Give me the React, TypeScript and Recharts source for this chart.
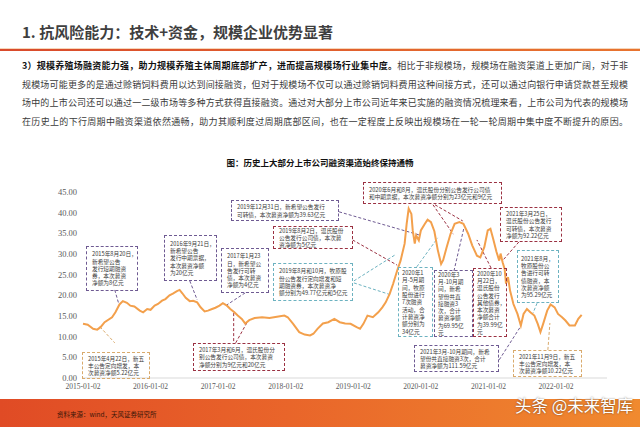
import React from 'react';
import { LineChart, Line, XAxis, YAxis, ReferenceLine } from 'recharts';

// ---- data (decimal years, index level) ----
const dates = [
  2015.00, 2015.07, 2015.15, 2015.21, 2015.26, 2015.32, 2015.43, 2015.48, 2015.54, 2015.59, 2015.65, 2015.70, 2015.76, 2015.84, 2015.89, 2015.95,
  2016.00, 2016.06, 2016.11, 2016.17, 2016.22, 2016.28, 2016.33, 2016.39, 2016.43, 2016.47, 2016.52, 2016.58, 2016.63, 2016.69, 2016.74, 2016.80, 2016.85, 2016.91, 2016.96,
  2017.02, 2017.07, 2017.13, 2017.18, 2017.24, 2017.29, 2017.35, 2017.40, 2017.46, 2017.54, 2017.65, 2017.76, 2017.87, 2017.98,
  2018.03, 2018.11, 2018.20, 2018.28, 2018.36, 2018.41, 2018.47, 2018.55, 2018.63, 2018.72, 2018.80, 2018.88, 2018.96,
  2019.05, 2019.10, 2019.15, 2019.21, 2019.29, 2019.37, 2019.43, 2019.48, 2019.54, 2019.59, 2019.65, 2019.70, 2019.76, 2019.79, 2019.82, 2019.86, 2019.88, 2019.91, 2019.93, 2019.97,
  2020.00, 2020.06, 2020.10, 2020.15, 2020.20, 2020.25, 2020.30, 2020.33, 2020.38, 2020.44, 2020.50, 2020.57, 2020.63, 2020.70, 2020.76, 2020.83, 2020.88, 2020.94, 2020.99,
  2021.03, 2021.07, 2021.12, 2021.16, 2021.18, 2021.21, 2021.24, 2021.26, 2021.29, 2021.32, 2021.37, 2021.43, 2021.48, 2021.52, 2021.57, 2021.62, 2021.68, 2021.73, 2021.77, 2021.81, 2021.87, 2021.92, 2021.98,
  2022.03, 2022.09, 2022.14, 2022.20, 2022.28, 2022.33, 2022.38,
];
const values = [
  13.1, 12.9, 11.9, 11.7, 12.3, 13.5, 14.7, 15.9, 17.8, 18.6, 18.2, 17.5, 17.3, 16.3, 15.9, 16.7,
  16.5, 17.5, 17.9, 18.7, 19.1, 20.0, 20.4, 21.0, 21.3, 20.5, 19.4, 18.6, 18.7, 18.3, 17.1, 16.1, 16.3, 16.7, 17.0,
  17.5, 18.1, 17.5, 16.7, 15.9, 15.1, 14.3, 13.2, 14.0, 14.5, 14.7, 14.5, 14.8, 15.1,
  14.7, 13.1, 11.1, 10.5, 10.3, 10.7, 11.9, 13.2, 13.5, 14.3, 13.5, 13.2, 13.1,
  12.3, 11.9, 13.1, 15.1, 14.7, 15.9, 17.1, 18.3, 20.4, 22.8, 26.0, 28.4, 32.5, 37.3, 41.0, 39.7, 35.7, 32.5, 34.5, 33.3,
  35.7, 37.3, 38.3, 37.7, 35.5, 31.0, 27.6, 28.5, 31.5, 34.9, 37.3, 37.7, 37.3, 34.9, 32.1, 29.6, 29.2, 31.7, 35.7,
  36.1, 33.7, 30.5, 28.4, 30.1, 28.0, 26.4, 22.8, 24.4, 21.2, 17.9, 15.5, 12.7, 15.5, 16.7, 15.9, 15.1, 13.1, 11.1, 13.1, 16.3, 17.8, 17.1,
  15.5, 14.7, 13.9, 12.7, 12.7, 14.3, 15.3,
];
const xTicks = [2015, 2016, 2017, 2018, 2019, 2020, 2021, 2022];
const xTickLabels = ['2015-01-02', '2016-01-02', '2017-01-02', '2018-01-02', '2019-01-02', '2020-01-02', '2021-01-02', '2022-01-02'];
const yTicks = [0, 5, 10, 15, 20, 25, 30, 35, 40, 45];

const data = dates.map((t, i) => ({ t, v: values[i] }));

const PURPLE = '#6e5a92';
const RED = '#9b3142';
const TEAL = '#6cb2c0';
const TAN = '#d9aa6c';

// leader lines: anchor points in data space
const leaders = [
  { a: [2015.47, 21.3], b: [2015.53, 17.9], c: PURPLE },
  { a: [2015.25, 12.4], b: [2015.47, 8.5], c: TAN },
  { a: [2016.58, 23.5], b: [2016.69, 18.9], c: PURPLE },
  { a: [2017.40, 20.6], b: [2017.13, 17.7], c: PURPLE },
  { a: [2017.23, 15.7], b: [2017.23, 8.5], c: RED },
  { a: [2017.26, 8.5], b: [2017.43, 13.5], c: RED },
  { a: [2018.79, 40.2], b: [2020.0, 34.5], c: PURPLE },
  { a: [2018.99, 33.4], b: [2019.65, 27.3], c: RED },
  { a: [2019.01, 23.5], b: [2019.62, 29.8], c: TEAL },
  { a: [2019.01, 23.0], b: [2019.56, 20.1], c: TEAL },
  { a: [2020.18, 41.9], b: [2020.48, 34.8], c: RED },
  { a: [2020.21, 41.9], b: [2020.62, 38.0], c: RED },
  { a: [2021.45, 32.9], b: [2021.22, 28.6], c: RED },
  { a: [2021.72, 18.1], b: [2021.66, 15.7], c: TEAL },
  { a: [2019.94, 26.9], b: [2020.25, 33.9], c: TEAL },
  { a: [2020.49, 25.9], b: [2020.64, 36.5], c: PURPLE },
  { a: [2021.04, 26.6], b: [2020.83, 33.4], c: RED },
  { a: [2021.16, 4.4], b: [2021.47, 12.3], c: PURPLE },
  { a: [2021.88, 6.8], b: [2021.91, 13.3], c: TAN },
];

// annotation boxes (layout)
const boxes = [
  { l: 86, t: 246, w: 52, h: 45, c: PURPLE, lines: ['2015年8月20日，', '新希望公告', '发行短期融资', '券，本次募资', '净额为8亿元'] },
  { l: 82, t: 352, w: 68, h: 27, c: TAN, lines: ['2015年4月22日，新五', '丰公告定向增发，本', '次募资净额5.22亿元'] },
  { l: 164, t: 235, w: 53, h: 46, c: PURPLE, lines: ['2016年9月21日，', '新希望公告', '发行中期票据，', '本次募资净额', '为20亿元'] },
  { l: 221, t: 248, w: 48, h: 45, c: PURPLE, lines: ['2017年1月23', '日，新希望公', '告发行可转', '债，本次募资', '净额为4亿元'] },
  { l: 193, t: 343, w: 92, h: 28, c: RED, lines: ['2017年3月和6月，温氏股份分', '别公告发行公司债，本次募资', '净额分别为9亿元和20亿元'] },
  { l: 231, t: 200, w: 108, h: 21, c: PURPLE, lines: ['2019年12月31日，新希望公告发行', '可转债，本次募资净额为39.63亿元'] },
  { l: 273, t: 226, w: 80, h: 23, c: RED, lines: ['2019年8月2日，温氏股份', '公告发行公司债，本次募', '资净额为5亿元'] },
  { l: 273, t: 263, w: 80, h: 38, c: TEAL, lines: ['2019年8月和10月，牧原股', '份公告发行定向增发和短', '期融资券，本次募资净', '额分别为49.77亿元和5亿元'] },
  { l: 363, t: 182, w: 139, h: 22, c: RED, lines: ['2020年6月和8月，温氏股份分别公告发行公司债', '和中期票据，本次募资净额分别为23亿元和9亿元'] },
  { l: 500, t: 207, w: 62, h: 35, c: RED, lines: ['2021年3月25日，', '温氏股份公告发行', '可转债，本次募资', '净额为92.22亿元'] },
  { l: 517, t: 250, w: 42, h: 53, c: TEAL, lines: ['2021年8月，', '牧原股份公', '告进行可转', '债融资，本', '次募资净额', '为95.29亿元'] },
  { l: 398, t: 267, w: 35, h: 70, c: TEAL, lines: ['2020年1', '月-5月期', '间，牧原', '股份进行', '7次融资', '活动，合', '计募资净', '额分别为', '34亿元'] },
  { l: 434, t: 270, w: 39, h: 67, c: PURPLE, lines: ['2020年3', '月-10月期', '间，新希', '望份共直', '接融资3', '次，合计', '募资净额', '为69.95亿', '元'] },
  { l: 473, t: 268, w: 34, h: 69, c: RED, lines: ['2020年10', '月22日，', '温氏股份', '公告发行', '其他债券，', '本次募资', '净额合计', '为39.99亿', '元'] },
  { l: 414, t: 345, w: 85, h: 27, c: PURPLE, lines: ['2021年3月-10月期间，新希', '望份共直接融资3次，合计', '募资净额为111.59亿元'] },
  { l: 513, t: 350, w: 69, h: 27, c: TAN, lines: ['2021年11月9日，新五', '丰公告定向增发，本', '次募资净额10.22亿元'] },
];

const paraLines = [
  { b: '3）规模养殖场融资能力强，助力规模养殖主体周期底部扩产，进而提高规模场行业集中度。', n: '相比于非规模场，规模场在融资渠道上更加广阔，对于非' },
  { b: '', n: '规模场可能更多的是通过赊销饲料费用以达到间接融资，但对于规模场不仅可以通过赊销饲料费用这种间接方式，还可以通过向银行申请贷款甚至规模' },
  { b: '', n: '场中的上市公司还可以通过一二级市场等多种方式获得直接融资。通过对大部分上市公司近年来已实施的融资情况梳理来看，上市公司为代表的规模场' },
  { b: '', n: '在历史上的下行周期中融资渠道依然通畅，助力其顺利度过周期底部区间，也在一定程度上反映出规模场在一轮一轮周期中集中度不断提升的原因。' },
];

const CJK = "'Noto Sans CJK SC', 'Noto Sans', sans-serif";
const SERIF = "'Liberation Serif', 'DejaVu Serif', serif";

export default function App() {
  return (
    <div style={{ position: 'absolute', left: 0, top: 0, width: 640, height: 427, background: '#fff', overflow: 'hidden', fontFamily: CJK }}>
      {/* header */}
      <div style={{ position: 'absolute', left: 22, top: 22, fontSize: 15, lineHeight: '20px', fontWeight: 700, color: '#3f3f3f', whiteSpace: 'nowrap' }}>
        1. 抗风险能力：技术+资金，规模企业优势显著
      </div>
      <div style={{ position: 'absolute', left: 0, top: 48, width: 640, height: 1, background: '#f6d6ba' }} />
      <div style={{ position: 'absolute', left: 0, top: 49, width: 640, height: 2, background: 'linear-gradient(90deg, #d94a2b, #e8742f)' }} />

      {/* paragraph */}
      {paraLines.map((p, i) => (
        <div key={i} style={{ position: 'absolute', left: 22, top: 60 + i * 18.5, width: 606, fontSize: 9, lineHeight: '12px', textAlign: 'justify', textAlignLast: 'justify', color: '#3a3a3a' }}>
          {p.b ? <span style={{ fontWeight: 700, color: '#111' }}>{p.b}</span> : null}
          {p.n}
        </div>
      ))}

      {/* chart title */}
      <div style={{ position: 'absolute', left: 0, top: 156, width: 640, textAlign: 'center', fontSize: 8.5, lineHeight: '12px', fontWeight: 700, color: '#111' }}>
        图：历史上大部分上市公司融资渠道始终保持通畅
      </div>

      {/* chart */}
      <div style={{ position: 'absolute', left: 0, top: 0 }}>
        <LineChart width={640} height={427} data={data} margin={{ top: 192, right: 33, bottom: 29, left: 43 }}>
          <XAxis
            dataKey="t"
            type="number"
            domain={[2015, 2022.755]}
            ticks={xTicks}
            interval={0}
            tickFormatter={(v: number) => xTickLabels[xTicks.indexOf(v)] ?? String(v)}
            axisLine={{ stroke: '#d9d9d9' }}
            tickLine={false}
            tickSize={4}
            height={20}
            tick={{ fill: '#595959', fontSize: 7.5, fontFamily: SERIF }}
          />
          <YAxis
            type="number"
            domain={[0, 45]}
            ticks={yTicks}
            interval={0}
            width={40}
            axisLine={false}
            tickLine={false}
            tickSize={4}
            tickFormatter={(v: number) => v.toFixed(2)}
            tick={{ fill: '#595959', fontSize: 8.5, fontFamily: SERIF }}
          />
          {leaders.map((ld, i) => (
            <ReferenceLine
              key={i}
              segment={[{ x: ld.a[0], y: ld.a[1] }, { x: ld.b[0], y: ld.b[1] }]}
              stroke={ld.c}
              strokeWidth={1}
              strokeDasharray="3 2"
              ifOverflow="visible"
            />
          ))}
          <Line type="linear" dataKey="v" stroke="#f3a04c" strokeWidth={2} dot={false} isAnimationActive={false} />
        </LineChart>
      </div>

      {/* annotation boxes */}
      {boxes.map((b, i) => (
        <div
          key={i}
          style={{
            position: 'absolute', left: b.l, top: b.t, width: b.w, height: b.h, boxSizing: 'border-box',
            border: `1px dashed ${b.c}`, display: 'flex', flexDirection: 'column', justifyContent: 'center',
            paddingLeft: b.w < 45 ? 3 : 5, fontSize: 5.7, lineHeight: '7.3px', color: '#3a3a3a', whiteSpace: 'pre', overflow: 'visible',
          }}
        >
          {b.lines.map((ln, j) => <div key={j}>{ln}</div>)}
        </div>
      ))}

      {/* footer */}
      <div style={{ position: 'absolute', left: 0, top: 399, width: 640, height: 28, background: 'linear-gradient(90deg, #e04b25 0%, #e9652a 45%, #f08a2f 100%)' }} />
      <div style={{ position: 'absolute', left: 57, top: 410, fontSize: 6.5, lineHeight: '8px', color: '#3a1608', whiteSpace: 'nowrap' }}>
        资料来源：wind，天风证券研究所
      </div>
      <div style={{ position: 'absolute', left: 515, top: 395, fontSize: 16.5, lineHeight: '20px', color: '#fff', whiteSpace: 'nowrap', textShadow: '0 0 2px rgba(0,0,0,0.55)' }}>
        头条 @未来智库
      </div>
    </div>
  );
}
